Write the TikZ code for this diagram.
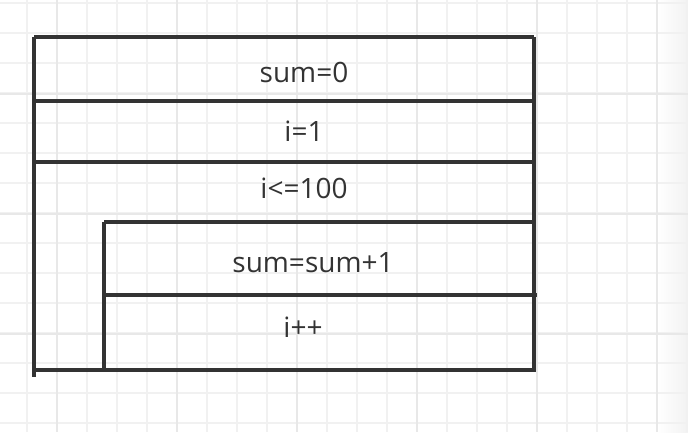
\documentclass[tikz,border=0pt]{standalone}
\usepackage{fontspec}
\setmainfont{Open Sans}
\usepackage{tikz}
\usepackage{xcolor}
\definecolor{ink}{HTML}{333333}
\definecolor{minorgrid}{HTML}{F1F1F1}
\definecolor{majorgrid}{HTML}{E8E8E8}

\begin{document}
\begin{tikzpicture}[x=1pt,y=-1pt,
  box/.style={draw=ink,line width=3.3pt},
  lbl/.style={text=ink,anchor=base,inner sep=0pt,font=\fontsize{28}{32}\selectfont}]
\useasboundingbox (0,0) rectangle (688,432);
% paper background
\fill[white] (0,0) rectangle (688,432);
\shade[left color=white,right color=black!5] (657,0) rectangle (688,432);
\foreach \x in {-3,27,...,687} \draw[minorgrid,line width=1.2pt] (\x,0) -- (\x,432);
\foreach \y in {3,33,...,423} \draw[minorgrid,line width=1.2pt] (0,\y) -- (688,\y);
\foreach \x in {57,177,...,657} \draw[majorgrid,line width=1.4pt] (\x,0) -- (\x,432);
\foreach \y in {94,214,334} \draw[majorgrid,line width=1.4pt] (0,\y) -- (688,\y);
% outer block
\draw[box] (34,37) -- (534,37);
\draw[box] (34,101) -- (534,101);
\draw[box] (34,162) -- (533,162);
\draw[box] (34,37) -- (34,377);
\draw[box] (534,37) -- (534,370);
\draw[box] (34,370) -- (536,370);
% loop body
\draw[box] (104,222) -- (534,222);
\draw[box] (104,295) -- (537,295);
\draw[box] (104,222) -- (104,370);
% texts
\node[lbl] (init) at (304,82) {sum=0};
\node[lbl] (start) at (304,141) {i=1};
\node[lbl] (cond) at (304,198) {i<=100};
\node[lbl] (add) at (313,272) {sum=sum+1};
\node[lbl] (inc) at (303,337) {i++};
\end{tikzpicture}
\end{document}
